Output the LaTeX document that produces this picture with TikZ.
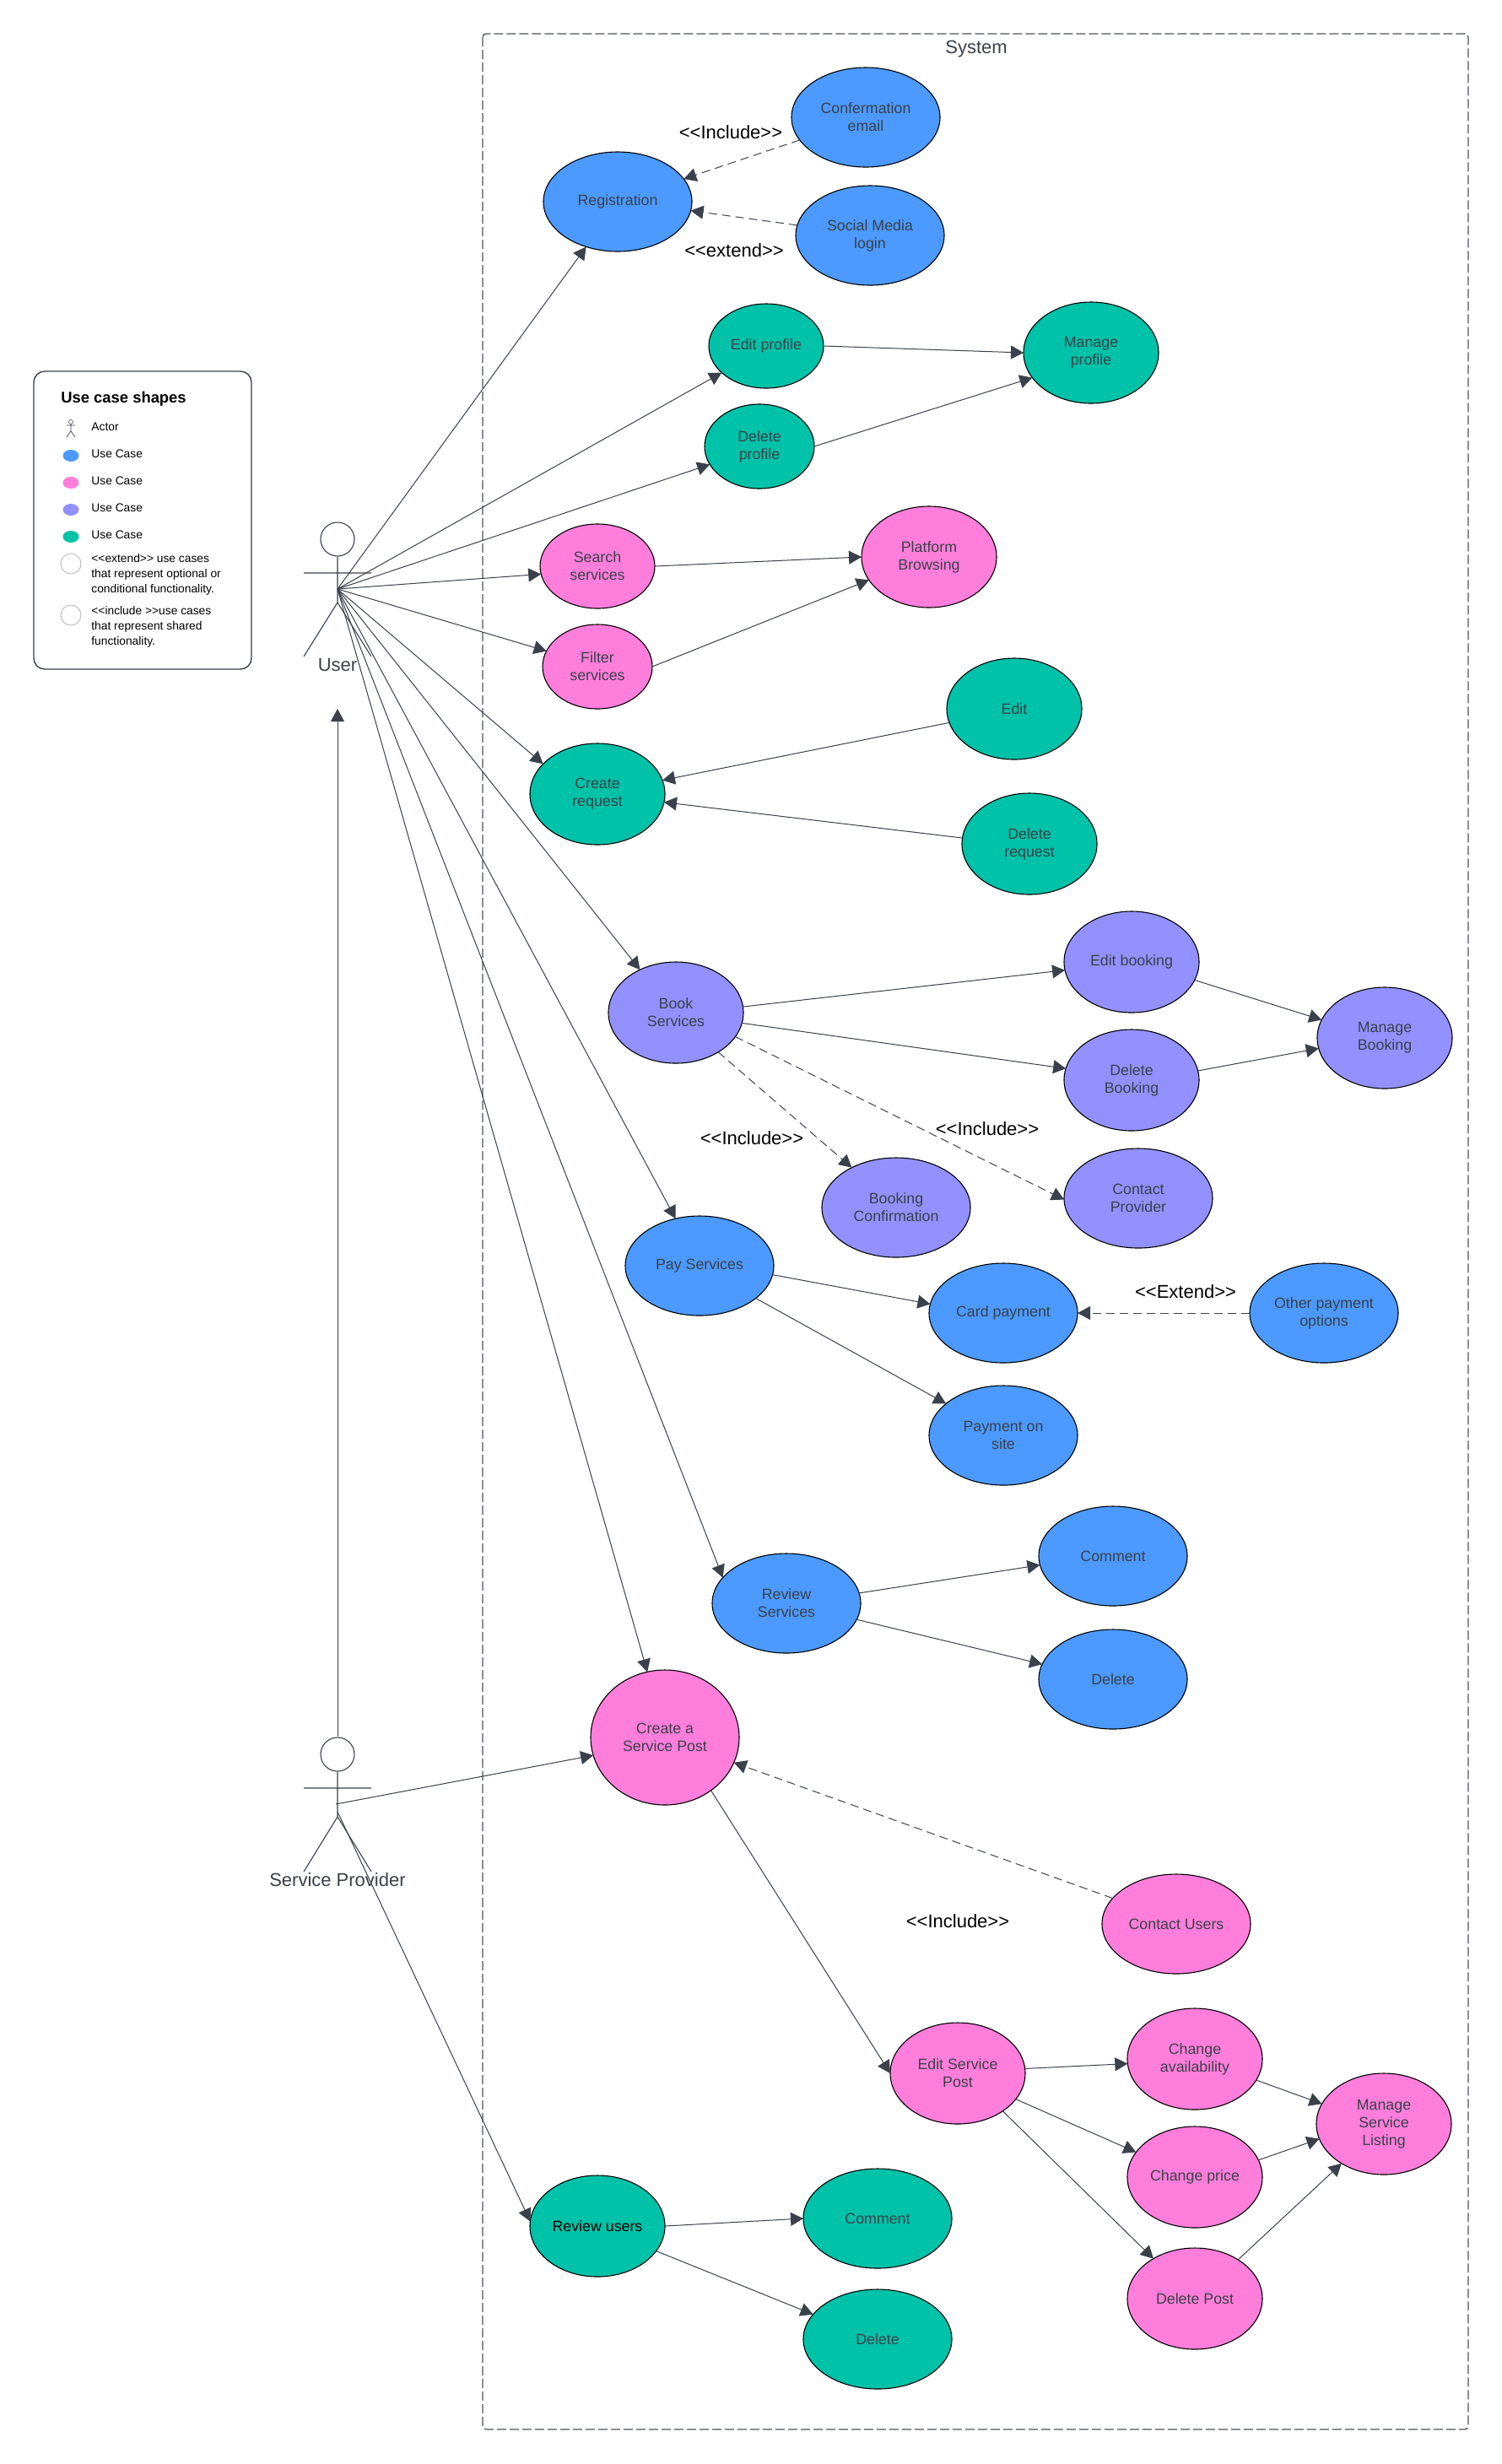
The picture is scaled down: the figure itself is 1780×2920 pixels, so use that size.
\documentclass[tikz,border=0pt]{standalone}
\usepackage{fontspec}
\setmainfont{Liberation Sans}
\usetikzlibrary{shapes.geometric,arrows.meta}
\definecolor{ink}{HTML}{3A414A}
\definecolor{cblue}{HTML}{4C9AFF}
\definecolor{cpink}{HTML}{FF7EDB}
\definecolor{cviolet}{HTML}{9391FF}
\definecolor{cgreen}{HTML}{00C2A8}
\tikzset{
  uc/.style={ellipse,draw=black,line width=0.55pt,inner sep=0pt,outer sep=0pt,align=center,text=ink,
    font=\fontsize{8.9}{10.6}\selectfont,execute at end node={\\[-8.4pt]\mbox{}}},
  big/.style={minimum width=88pt,minimum height=59pt},
  mid/.style={minimum width=80pt,minimum height=60pt},
  ucb/.style={uc,big,fill=cblue},
  ucp/.style={uc,mid,fill=cpink},
  ucv/.style={uc,mid,fill=cviolet},
  ucg/.style={uc,mid,fill=cgreen},
  conn/.style={draw=ink,line width=0.5pt,-{Triangle[length=7.5pt,width=8pt]}},
  dconn/.style={conn,dash pattern=on 5pt off 3pt},
  stereo/.style={font=\fontsize{11}{13}\selectfont,text=black,inner sep=0pt},
  actorlabel/.style={font=\fontsize{11}{13}\selectfont,text=ink,inner sep=0pt},
  actorline/.style={draw=ink,line width=0.55pt},
  lgitem/.style={anchor=west,inner sep=0pt,align=left,text=black,font=\fontsize{6.9}{9.2}\selectfont},
  lgdot/.style={ellipse,inner sep=0pt,minimum width=9.5pt,minimum height=7pt},
  lgcirc/.style={circle,draw=black!25,line width=0.5pt,inner sep=0pt,minimum size=12pt}
}
\begin{document}
\begin{tikzpicture}[x=0.5pt,y=-0.5pt]
\fill[white] (0,0) rectangle (1780,2920);
\useasboundingbox (0,0) rectangle (1780,2920);

% system boundary
\draw[draw=ink!90,line width=0.7pt,rounded corners=2pt,dash pattern=on 5.5pt off 2pt] (572,40) rectangle (1740,2879);
\node[actorlabel] (systemlabel) at (1157,58) {System};

% legend
\draw[draw=ink,line width=0.7pt,rounded corners=6.5pt] (40,440) rectangle (298,793);
\node[anchor=west,inner sep=0pt,font=\fontsize{9.2}{11}\selectfont\bfseries,text=black] (lgtitle) at (72,473) {Use case shapes};
\node[circle,draw=ink,line width=0.3pt,inner sep=0pt,minimum size=2.5pt] (lghead) at (84,500) {};
\draw[actorline,line width=0.35pt] (lghead.south) -- (84,511) (79,504) -- (89,504) (79,518) -- (84,511) -- (89,518);
\node[lgitem] (lgactor) at (108,506) {Actor};
\node[lgdot,fill=cblue] (lgd1) at (84,540) {};
\node[lgitem] (lgt1) at (108,538) {Use Case};
\node[lgdot,fill=cpink] (lgd2) at (84,572) {};
\node[lgitem] (lgt2) at (108,570) {Use Case};
\node[lgdot,fill=cviolet] (lgd3) at (84,604) {};
\node[lgitem] (lgt3) at (108,602) {Use Case};
\node[lgdot,fill=cgreen] (lgd4) at (84,636) {};
\node[lgitem] (lgt4) at (108,634) {Use Case};
\node[lgcirc] (lgc1) at (84,668) {};
\node[lgitem] (lgt5) at (108,681) {<{}<extend>{}> use cases\\that represent optional or\\conditional functionality.};
\node[lgcirc] (lgc2) at (84,729) {};
\node[lgitem] (lgt6) at (108,743) {<{}<include >{}>use cases\\that represent shared\\functionality.};

% actors
\node[circle,draw=ink,line width=0.55pt,inner sep=0pt,minimum size=20pt] (userhead) at (400,639) {};
\coordinate (userhub) at (400,698);
\coordinate (userwaist) at (400,714);
\coordinate (userarmL) at (360,679);
\coordinate (userarmR) at (440,679);
\coordinate (userlegL) at (360,778);
\coordinate (userlegR) at (440,778);
\draw[actorline] (userhead.south) -- (userwaist) (userarmL) -- (userarmR) (userlegL) -- (userwaist) -- (userlegR);
\node[actorlabel] (userlabel) at (400,788) {User};

\node[circle,draw=ink,line width=0.55pt,inner sep=0pt,minimum size=20pt] (sphead) at (400,2079) {};
\coordinate (spwaist) at (400,2153);
\coordinate (sphubA) at (398,2138);
\coordinate (sphubB) at (400,2147);
\coordinate (sparmL) at (360,2119);
\coordinate (sparmR) at (440,2119);
\coordinate (splegL) at (360,2218);
\coordinate (splegR) at (440,2218);
\draw[actorline] (sphead.south) -- (spwaist) (sparmL) -- (sparmR) (splegL) -- (spwaist) -- (splegR);
\node[actorlabel] (splabel) at (400,2228) {Service Provider};
\coordinate (usertip) at (400,840);

% use cases
\node[ucb] (reg) at (732,239) {Registration};
\node[ucb] (conf) at (1026,139) {Confermation\\email};
\node[ucb] (social) at (1031,279) {Social Media\\login};
\node[uc,fill=cgreen,minimum width=68pt,minimum height=50pt] (editprof) at (908,410) {Edit profile};
\node[uc,fill=cgreen,minimum width=65pt,minimum height=50pt] (delprof) at (900,529) {Delete\\profile};
\node[ucg] (manprof) at (1293,418) {Manage\\profile};
\node[uc,fill=cpink,minimum width=68pt,minimum height=50pt] (search) at (708,671) {Search\\services};
\node[uc,fill=cpink,minimum width=65pt,minimum height=50pt] (filter) at (708,790) {Filter\\services};
\node[ucp] (platform) at (1101,660) {Platform\\Browsing};
\node[ucg] (edit) at (1202,840) {Edit};
\node[ucg] (create) at (708,941) {Create\\request};
\node[ucg] (delreq) at (1220,1000) {Delete\\request};
\node[ucv] (book) at (801,1200) {Book\\Services};
\node[ucv] (editbook) at (1341,1140) {Edit booking};
\node[ucv] (delbook) at (1341,1280) {Delete\\Booking};
\node[ucv] (manbook) at (1641,1230) {Manage\\Booking};
\node[uc,big,fill=cviolet] (contact) at (1349,1420) {Contact\\Provider};
\node[uc,big,fill=cviolet] (bconf) at (1062,1431) {Booking\\Confirmation};
\node[ucb] (pay) at (829,1500) {Pay Services};
\node[ucb] (card) at (1189,1556) {Card payment};
\node[ucb] (other) at (1569,1556) {Other payment\\options};
\node[ucb] (site) at (1189,1701) {Payment on\\site};
\node[ucb] (review) at (932,1900) {Review\\Services};
\node[ucb] (comment) at (1319,1844) {Comment};
\node[ucb] (delete) at (1319,1990) {Delete};
\node[uc,fill=cpink,minimum width=88pt,minimum height=80pt] (post) at (788,2059) {Create a\\Service Post};
\node[uc,big,fill=cpink] (cusers) at (1394,2280) {Contact Users};
\node[ucp] (editpost) at (1135,2457) {Edit Service\\Post};
\node[ucp] (avail) at (1416,2440) {Change\\availability};
\node[ucp] (price) at (1416,2580) {Change price};
\node[ucp] (delpost) at (1416,2724) {Delete Post};
\node[ucp] (listing) at (1640,2517) {Manage\\Service\\Listing};
\node[ucg,text=black] (revusers) at (708,2638) {Review users};
\node[uc,big,fill=cgreen] (gcomment) at (1040,2629) {Comment};
\node[uc,big,fill=cgreen] (gdelete) at (1040,2772) {Delete};

% stereotype labels
\node[stereo] (s1) at (866,157) {<{}<Include>{}>};
\node[stereo] (s2) at (870,297) {<{}<extend>{}>};
\node[stereo] (s3) at (891,1349) {<{}<Include>{}>};
\node[stereo] (s4) at (1170,1338) {<{}<Include>{}>};
\node[stereo] (s5) at (1405,1531) {<{}<Extend>{}>};
\node[stereo] (s6) at (1135,2277) {<{}<Include>{}>};

% connectors from User
\draw[conn] (userhub) -- (reg.235);
\draw[conn] (userhub) -- (editprof.211);
\draw[conn] (userhub) -- (delprof.200);
\draw[conn] (userhub) -- (search.188);
\draw[conn] (userhub) -- (filter.163);
\draw[conn] (userhub) -- (create.151);
\draw[conn] (userhub) -- (book.130);
\draw[conn] (userhub) -- (pay.117);
\draw[conn] (userhub) -- (review.158);
\draw[conn] (userhub) -- (post.105);
% Service provider
\draw[conn] (sphead.north) -- (usertip);
\draw[conn] (sphubA) -- (post.194);
\draw[conn] (sphubB) -- (revusers.176);

\draw[dconn] (conf.199) -- (reg.19);
\draw[dconn] (social.172) -- (reg.-7);
\draw[conn] (editprof.0) -- (manprof.180);
\draw[conn] (delprof.0) -- (manprof.203);
\draw[conn] (search.0) -- (platform.180);
\draw[conn] (filter.0) -- (platform.201);
\draw[conn] (edit.192) -- (create.12);
\draw[conn] (delreq.175) -- (create.-7);
\draw[conn] (book.5) -- (editbook.187);
\draw[conn] (book.-9) -- (delbook.170);
\draw[dconn] (book.-43) -- (bconf.138);
\draw[dconn] (book.-22) -- (contact.181);
\draw[conn] (editbook.-16) -- (manbook.164);
\draw[conn] (delbook.8) -- (manbook.189);
\draw[conn] (pay.-7) -- (card.173);
\draw[conn] (pay.-30) -- (site.151);
\draw[dconn] (other.180) -- (card.0);
\draw[conn] (review.8) -- (comment.187);
\draw[conn] (review.-13) -- (delete.168);
\draw[dconn] (cusers.158) -- (post.-20);
\draw[conn] (post.-49) -- (editpost.180);
\draw[conn] (editpost.4) -- (avail.184);
\draw[conn] (editpost.-24) -- (price.157);
\draw[conn] (editpost.-40) -- (delpost.136);
\draw[conn] (avail.-19) -- (listing.162);
\draw[conn] (price.15) -- (listing.193);
\draw[conn] (delpost.42) -- (listing.223);
\draw[conn] (revusers.0) -- (gcomment.180);
\draw[conn] (revusers.-23) -- (gdelete.159);
\end{tikzpicture}
\end{document}
